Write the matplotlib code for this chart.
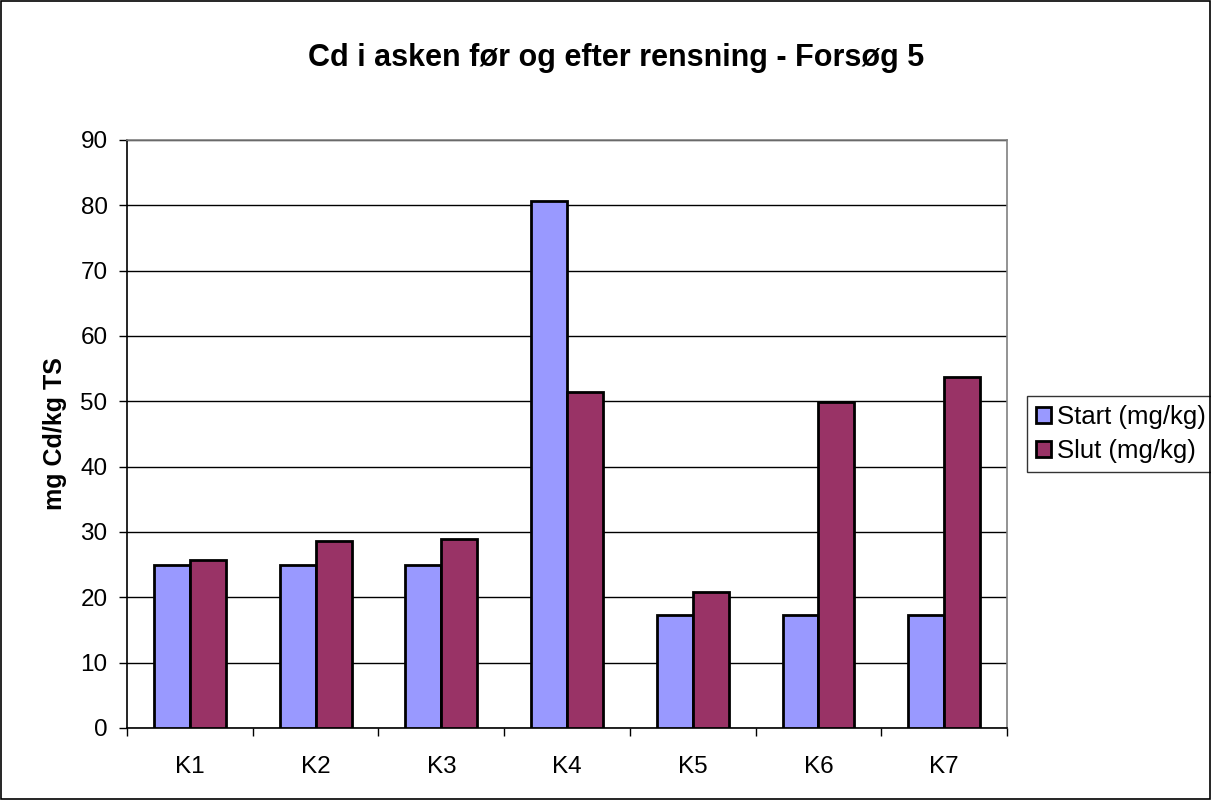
import numpy as np
import matplotlib.pyplot as plt
from matplotlib.patches import Rectangle

categories = ["K1", "K2", "K3", "K4", "K5", "K6", "K7"]
start_vals = [25.0, 25.0, 25.0, 80.7, 17.3, 17.3, 17.3]
slut_vals = [25.7, 28.6, 28.9, 51.4, 20.8, 49.9, 53.7]

plt.rcParams['font.family'] = ['Liberation Sans', 'DejaVu Sans']

fig = plt.figure(figsize=(12.11, 8.0), dpi=100)
ax = fig.add_axes([0.1049, 0.09, 0.7267, 0.735])

x = np.arange(len(categories))
w = 0.286
ax.bar(x - w / 2, start_vals, w, color="#9999ff", edgecolor="black", linewidth=2,
       label="Start (mg/kg)", zorder=3)
ax.bar(x + w / 2, slut_vals, w, color="#993366", edgecolor="black", linewidth=2,
       label="Slut (mg/kg)", zorder=3)

ax.set_xlim(-0.5, len(categories) - 0.5)
ax.set_ylim(0, 90)
ax.set_yticks(range(0, 91, 10))
ax.tick_params(axis="y", labelsize=17.5, direction="out", length=6, width=1, pad=8)
ax.yaxis.grid(True, color="black", linewidth=1, zorder=0)
ax.set_axisbelow(True)

# category labels centred, ticks on the boundaries
ax.set_xticks(x)
ax.set_xticklabels(categories, fontsize=17.5)
ax.tick_params(axis="x", length=0, pad=20)
ax.set_xticks(np.arange(-0.5, len(categories), 1), minor=True)
ax.tick_params(axis="x", which="minor", direction="out", length=6, width=1)

ax.spines["left"].set_color("black")
ax.spines["bottom"].set_color("black")
ax.spines["top"].set_color("#808080")
ax.spines["right"].set_color("#808080")
for s in ax.spines.values():
    s.set_linewidth(1.2)

ax.set_ylabel("mg Cd/kg TS", fontsize=18, fontweight="bold", labelpad=10)
fig.text(0.509, 0.927, "Cd i asken før og efter rensning - Forsøg 5", ha="center",
         va="center", fontsize=22, fontweight="bold")

leg = ax.legend(loc="center left", bbox_to_anchor=(1.0227, 0.50), fontsize=18.5,
                frameon=True, fancybox=False, edgecolor="black", handlelength=0.6,
                handleheight=0.6, handletextpad=0.2, borderpad=0.35, labelspacing=0.4,
                borderaxespad=0)
leg.get_frame().set_linewidth(1)

fig.patches.append(Rectangle((0.001, 0.001), 0.998, 0.998, transform=fig.transFigure,
                             fill=False, edgecolor="black", linewidth=1.2))

fig.savefig("out.png", dpi=100)
